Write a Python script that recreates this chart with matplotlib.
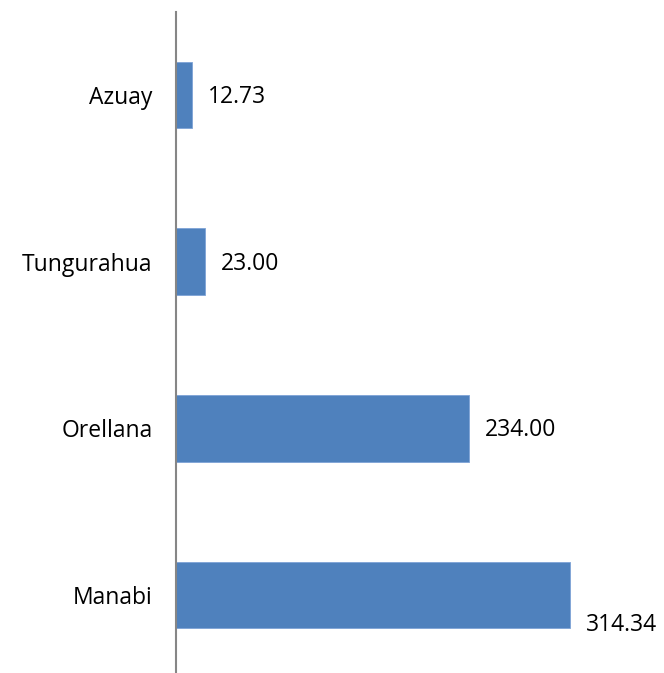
import matplotlib.pyplot as plt

# data (top to bottom)
provinces = ["Azuay", "Tungurahua", "Orellana", "Manabi"]
values = [12.73, 23.00, 234.00, 314.34]
labels = ["12.73", "23.00", "234.00", "314.34"]

plt.rcParams['font.family'] = ['Open Sans', 'DejaVu Sans']

W, H = 664, 673
fig = plt.figure(figsize=(W / 100, H / 100), dpi=100)
# axes box in pixels: left 176, top 11.5, bottom 678.5 (runs off the image)
ax = fig.add_axes([176 / W, (H - 678.5) / H, (W - 176) / W, 667 / H])

ypos = list(range(len(provinces)))
ax.barh(ypos, values, height=0.4, color="#4F81BD", edgecolor="#7EA3D6", linewidth=0.6)
ax.set_ylim(len(provinces) - 0.5, -0.5)
ax.set_xlim(0, 389.5)

ax.set_yticks(ypos)
ax.set_yticklabels(provinces, fontsize=16.5)
ax.tick_params(axis="y", length=0, pad=17)
ax.set_xticks([])

for s in ["top", "right", "bottom"]:
    ax.spines[s].set_visible(False)
ax.spines["left"].set_color("#868686")
ax.spines["left"].set_linewidth(1.5)

for i, (v, t) in enumerate(zip(values, labels)):
    dy = -30 if i == len(values) - 1 else -2
    ax.annotate(t, (v, i), xytext=(16, dy), textcoords="offset pixels",
                ha="left", va="center", fontsize=16.5, color="black")

fig.savefig("out.png", dpi=100)
